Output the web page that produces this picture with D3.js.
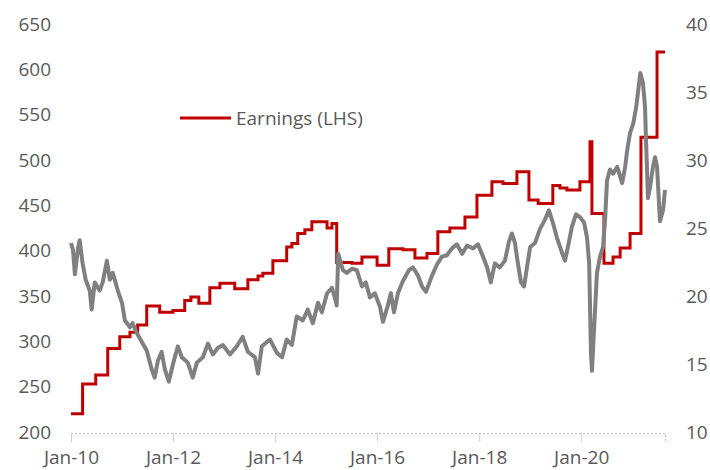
<!DOCTYPE html>
<html>
<head>
<meta charset="utf-8">
<script src="https://cdn.jsdelivr.net/npm/d3@7"></script>
<style>
  body { margin: 0; background: #fff; }
  text { font-family: "Open Sans", sans-serif; fill: #595959; }
</style>
</head>
<body>
<div id="chart"></div>
<script>
// earnings (LHS), step series
var earnDates = ["2010-01-01","2010-03-25","2010-06-27","2010-09-21","2010-12-16","2011-02-27","2011-04-23","2011-06-27","2011-09-28",
  "2012-01-01","2012-03-25","2012-05-08","2012-07-04","2012-09-21","2012-12-02","2013-03-18","2013-06-20","2013-09-01","2013-10-05",
  "2013-12-16","2014-03-25","2014-05-01","2014-06-12","2014-08-02","2014-09-21","2015-01-08","2015-02-12","2015-03-18","2015-07-04",
  "2015-09-15","2016-01-01","2016-03-25","2016-07-04","2016-09-28","2016-12-23","2017-03-11","2017-06-05","2017-09-21","2017-12-16",
  "2018-04-02","2018-06-20","2018-09-28","2018-12-23","2019-02-27","2019-06-12","2019-08-02","2019-09-21","2019-12-23","2020-03-04",
  "2020-03-18","2020-06-12","2020-08-16","2020-10-06","2020-12-16","2021-03-04","2021-06-27","2021-08-23"];
var earnValues = [220,253,263,292,305,310,318,339,332,
  334,345,349,342,359,364,358,368,372,375,
  389,404,408,419,423,432,425,430,387,386,
  393,384,402,401,392,397,421,425,437,461,
  476,474,487,456,452,472,469,467,476,520,
  441,386,393,403,419,525,619,619];

// multiple (RHS)
var peDates = ["2010-01-01","2010-01-15","2010-01-29","2010-02-20","2010-03-04","2010-03-25","2010-04-16","2010-05-15","2010-05-29",
  "2010-06-20","2010-07-25","2010-08-16","2010-09-15","2010-10-06","2010-10-27","2010-12-02","2011-01-01","2011-01-22","2011-02-27",
  "2011-03-18","2011-04-16","2011-05-08","2011-06-27","2011-08-02","2011-08-23","2011-09-14","2011-10-12","2011-11-04","2011-12-02",
  "2012-01-01","2012-02-05","2012-03-04","2012-04-16","2012-05-21","2012-06-20","2012-08-02","2012-09-07","2012-10-12","2012-11-18",
  "2012-12-23","2013-02-12","2013-04-02","2013-05-14","2013-06-20","2013-08-09","2013-09-01","2013-09-28","2013-11-25","2014-01-15",
  "2014-02-20","2014-03-25","2014-05-01","2014-06-05","2014-07-18","2014-08-23","2014-09-28","2014-11-04","2014-12-02","2015-01-08",
  "2015-02-12","2015-03-04","2015-03-18","2015-03-29","2015-05-01","2015-05-29","2015-07-04","2015-08-09","2015-09-15","2015-10-12",
  "2015-11-11","2015-12-16","2016-01-22","2016-02-12","2016-03-18","2016-04-09","2016-05-01","2016-05-29","2016-07-04","2016-08-16",
  "2016-09-14","2016-10-20","2016-11-18","2016-12-16","2017-01-28","2017-03-04","2017-04-09","2017-05-15","2017-06-20","2017-07-25",
  "2017-09-01","2017-10-05","2017-11-18","2017-12-23","2018-01-28","2018-02-27","2018-03-25","2018-04-23","2018-05-28","2018-07-04",
  "2018-08-02","2018-08-23","2018-09-14","2018-10-05","2018-10-27","2018-11-18","2018-12-09","2019-01-01","2019-02-05","2019-03-11",
  "2019-04-16","2019-05-15","2019-06-12","2019-07-11","2019-08-16","2019-09-07","2019-09-28","2019-10-27","2019-11-25","2019-12-23",
  "2020-01-22","2020-02-12","2020-02-27","2020-03-04","2020-03-11","2020-03-18","2020-04-02","2020-04-23","2020-05-15","2020-06-05",
  "2020-06-20","2020-07-04","2020-07-25","2020-08-16","2020-09-15","2020-10-06","2020-10-20","2020-11-11","2020-11-25","2020-12-16",
  "2021-01-08","2021-01-29","2021-02-12","2021-02-27","2021-03-18","2021-04-02","2021-04-09","2021-04-23","2021-05-08","2021-05-29",
  "2021-06-12","2021-06-27","2021-07-18","2021-08-09","2021-08-23"];
var peValues = [23.9,23.4,21.6,23.5,24.1,22.4,21.2,20.4,19.0,
  21.0,20.4,21.0,22.6,21.2,21.7,20.4,19.5,18.2,17.7,
  18.0,17.3,16.9,16.0,14.6,14.0,15.2,15.9,14.6,13.7,
  15.0,16.3,15.5,15.1,14.0,15.1,15.5,16.5,15.7,16.2,
  16.4,15.7,16.3,17.0,15.9,15.5,14.3,16.3,16.8,15.8,
  15.5,16.8,16.4,18.5,18.2,19.0,18.0,19.5,18.8,20.2,
  20.6,19.9,19.3,23.1,21.9,21.7,22.0,21.9,20.7,21.0,
  19.9,20.2,19.2,18.1,19.3,20.2,18.8,20.2,21.1,21.9,
  22.1,21.5,20.7,20.3,21.5,22.3,22.9,23.0,23.5,23.8,
  23.1,23.7,23.5,23.8,22.9,22.1,21.0,22.4,22.1,22.6,
  24.0,24.6,23.9,22.4,21.0,20.7,22.1,23.6,23.9,24.9,
  25.6,26.3,25.4,24.3,23.2,22.6,23.6,25.1,26.0,25.8,
  25.4,24.3,22.4,19.5,15.8,14.5,17.5,21.7,22.9,23.6,
  25.6,28.5,29.3,29.0,29.5,28.8,28.3,29.5,30.7,32.0,
  32.7,33.9,35.1,36.4,35.7,33.9,31.5,27.2,28.0,29.5,
  30.2,29.5,25.5,26.3,27.8];

var leftTicks = [200,250,300,350,400,450,500,550,600,650];
var rightTicks = [10,15,20,25,30,35,40];
var xTicks = ["2010-01-01","2012-01-01","2014-01-01","2016-01-01","2018-01-01","2020-01-01"];
var legendLabel = "Earnings (LHS)";

var width = 710, height = 470;
var parse = d3.timeParse("%Y-%m-%d");

var earn = earnDates.map(function(d, i){ return {date: parse(d), v: earnValues[i]}; });
var pe = peDates.map(function(d, i){ return {date: parse(d), v: peValues[i]}; });

var xScale = d3.scaleTime()
    .domain([parse("2010-01-01"), parse("2021-08-23")])
    .range([71, 665]);
var yLeft = d3.scaleLinear().domain([200, 650]).range([432, 24]);
var yRight = d3.scaleLinear().domain([10, 40]).range([432, 24]);

var svg = d3.select("#chart").append("svg")
    .attr("width", width)
    .attr("height", height);

// x axis
var xAxis = d3.axisBottom(xScale)
    .tickValues(xTicks.map(parse))
    .tickFormat(d3.timeFormat("%b-%y"))
    .tickSize(9)
    .tickPadding(9);
var gx = svg.append("g")
    .attr("transform", "translate(0,433)")
    .call(xAxis);
gx.select(".domain")
    .attr("stroke", "#bfbfbf")
    .attr("stroke-dasharray", "2,2");
gx.selectAll(".tick line").attr("stroke", "#d0d0d0");
gx.selectAll(".tick text")
    .style("font-size", "19px")
    .attr("fill", "#595959");

// left axis
var gl = svg.append("g")
    .attr("transform", "translate(51,0)")
    .call(d3.axisLeft(yLeft).tickValues(leftTicks).tickSize(0).tickPadding(0));
gl.select(".domain").remove();
gl.selectAll(".tick text").style("font-size", "19px").attr("fill", "#595959");

// right axis
var gr = svg.append("g")
    .attr("transform", "translate(686,0)")
    .call(d3.axisRight(yRight).tickValues(rightTicks).tickSize(0).tickPadding(0));
gr.select(".domain").remove();
gr.selectAll(".tick text").style("font-size", "19px").attr("fill", "#595959");

// lines
var earnLine = d3.line()
    .x(function(d){ return xScale(d.date); })
    .y(function(d){ return yLeft(d.v); })
    .curve(d3.curveStepAfter);
var peLine = d3.line()
    .x(function(d){ return xScale(d.date); })
    .y(function(d){ return yRight(d.v); });

svg.append("path")
    .datum(earn)
    .attr("d", earnLine)
    .attr("fill", "none")
    .attr("stroke", "#c00000")
    .attr("stroke-width", 3);

svg.append("path")
    .datum(pe)
    .attr("d", peLine)
    .attr("fill", "none")
    .attr("stroke", "#808080")
    .attr("stroke-width", 4)
    .attr("stroke-linejoin", "round");

// legend
svg.append("line")
    .attr("x1", 180).attr("x2", 231)
    .attr("y1", 118).attr("y2", 118)
    .attr("stroke", "#c00000")
    .attr("stroke-width", 3);
svg.append("text")
    .attr("x", 236)
    .attr("y", 118)
    .attr("dy", "0.35em")
    .style("font-size", "19px")
    .text(legendLabel);
</script>
</body>
</html>
